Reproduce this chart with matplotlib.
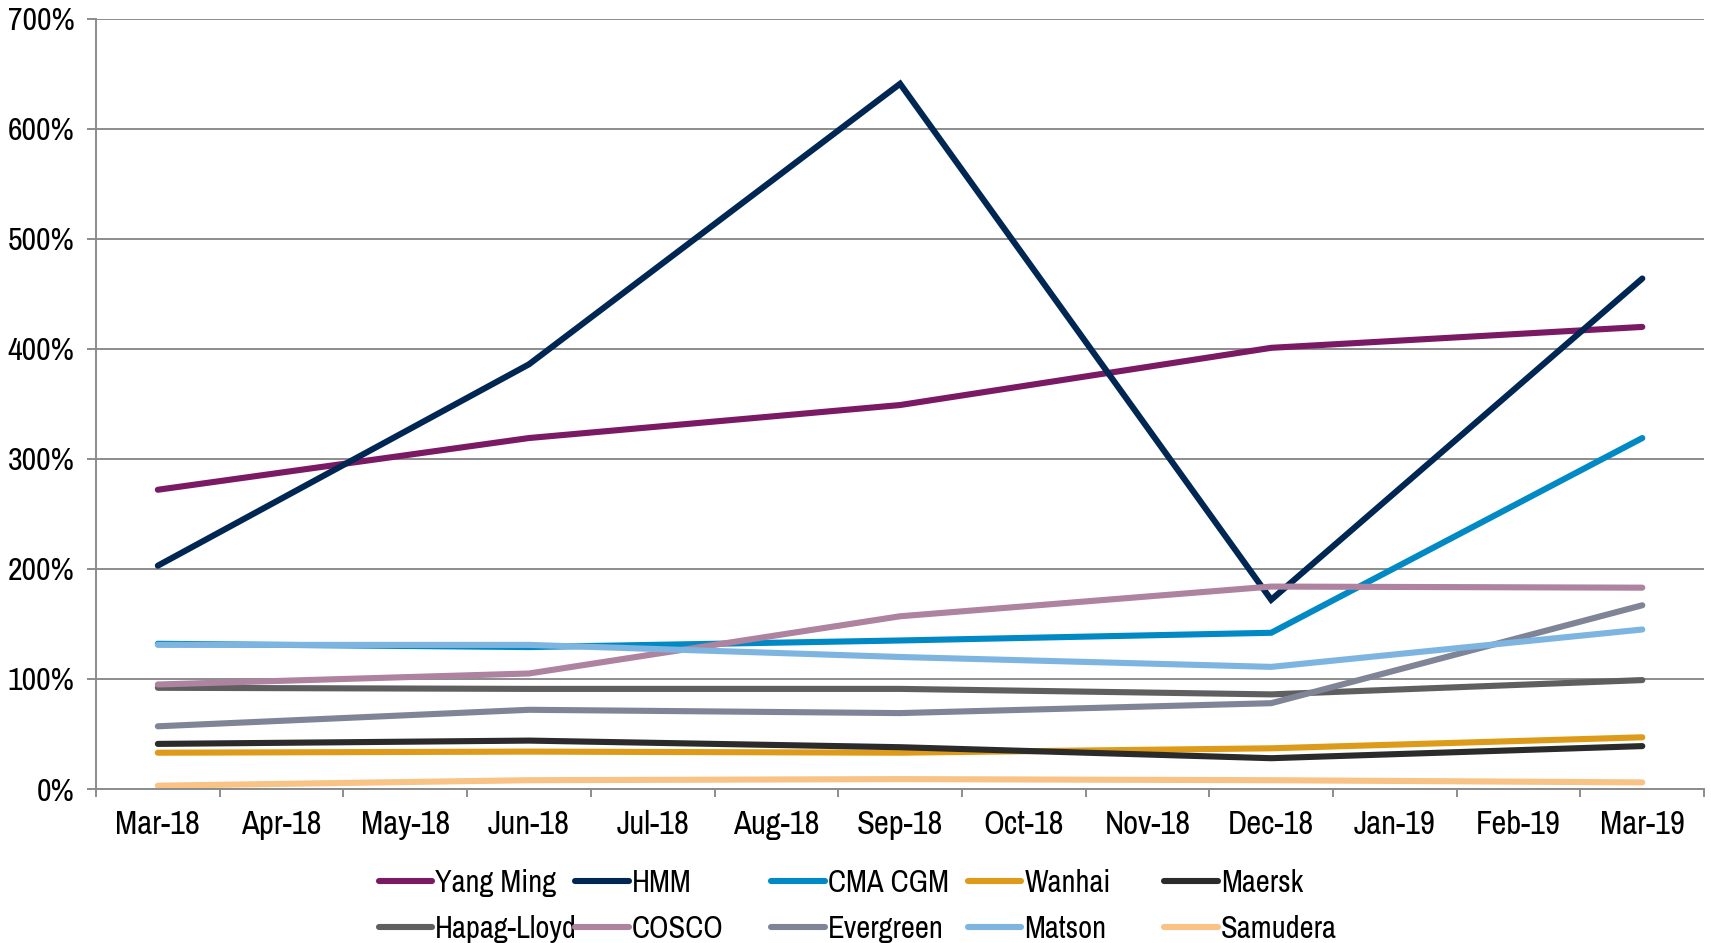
import matplotlib.pyplot as plt
from matplotlib import font_manager

# months on the axis, data only at the quarter ends
months = ['Mar-18', 'Apr-18', 'May-18', 'Jun-18', 'Jul-18', 'Aug-18', 'Sep-18',
          'Oct-18', 'Nov-18', 'Dec-18', 'Jan-19', 'Feb-19', 'Mar-19']
quarters = ['Mar-18', 'Jun-18', 'Sep-18', 'Dec-18', 'Mar-19']

yang_ming = [272, 319, 349, 401, 420]
hmm = [203, 386, 641, 172, 464]
cma_cgm = [132, 129, 135, 142, 319]
wanhai = [33, 34, 33, 37, 47]
maersk = [41, 44, 38, 28, 39]
hapag_lloyd = [92, 91, 91, 86, 99]
cosco = [95, 105, 157, 184, 183]
evergreen = [57, 72, 69, 78, 167]
matson = [131, 131, 120, 111, 145]
samudera = [3, 8, 9, 8, 6]

names = ['Yang Ming', 'HMM', 'CMA CGM', 'Wanhai', 'Maersk',
         'Hapag-Lloyd', 'COSCO', 'Evergreen', 'Matson', 'Samudera']
series = [yang_ming, hmm, cma_cgm, wanhai, maersk,
          hapag_lloyd, cosco, evergreen, matson, samudera]
colors = ['#7B1A64', '#002653', '#0089C4', '#DE9B1A', '#2B2B2B',
          '#5F5F5F', '#AD839F', '#7F8596', '#7DB5E0', '#F8C384']

# police étroite façon Arial Narrow
installed = {f.name for f in font_manager.fontManager.ttflist}
fam = 'Liberation Sans'
for cand in ['Liberation Sans Narrow', 'Archivo Narrow', 'Pragati Narrow']:
    if cand in installed:
        fam = cand
        break
plt.rcParams['font.family'] = [fam, 'DejaVu Sans']

fig = plt.figure(figsize=(17.11, 9.43), dpi=100)
ax = fig.add_axes([0.0561, 0.1633, 0.9399, 0.8167])

xq = [months.index(q) for q in quarters]
lines = []
for name, vals, col in zip(names, series, colors):
    ln, = ax.plot(xq, vals, color=col, lw=4.4, solid_capstyle='round',
                  solid_joinstyle='miter', label=name)
    lines.append(ln)

grid_c = '#8C8C8C'
ax.set_xlim(-0.5, len(months) - 0.5)
ax.set_ylim(0, 700)
ax.set_yticks(range(0, 701, 100))
ax.set_yticklabels([f'{v}%' for v in range(0, 701, 100)], fontsize=23)
ax.yaxis.grid(True, color=grid_c, lw=1.4)
ax.set_axisbelow(True)

ax.set_xticks(range(len(months)))
ax.set_xticklabels(months, fontsize=23.5)
ax.set_xticks([i - 0.5 for i in range(len(months) + 1)], minor=True)
ax.tick_params(axis='x', which='major', length=0, pad=15)
ax.tick_params(axis='x', which='minor', length=6, width=1.4, color=grid_c, direction='out')
ax.tick_params(axis='y', length=6.5, width=1.4, color=grid_c, pad=9)

for s in ['top', 'right']:
    ax.spines[s].set_visible(False)
for s in ['left', 'bottom']:
    ax.spines[s].set_color(grid_c)
    ax.spines[s].set_linewidth(1.4)

# légende : 5 colonnes régulières, 2 lignes
for j in range(5):
    fig.legend([lines[j], lines[j + 5]], [names[j], names[j + 5]],
               loc='upper left', bbox_to_anchor=(0.2213 + j * 0.1148, 0.079),
               frameon=False, borderpad=0, borderaxespad=0,
               handlelength=1.75, handletextpad=0.1, labelspacing=0.6,
               fontsize=22)

plt.savefig('out.png', dpi=100)
